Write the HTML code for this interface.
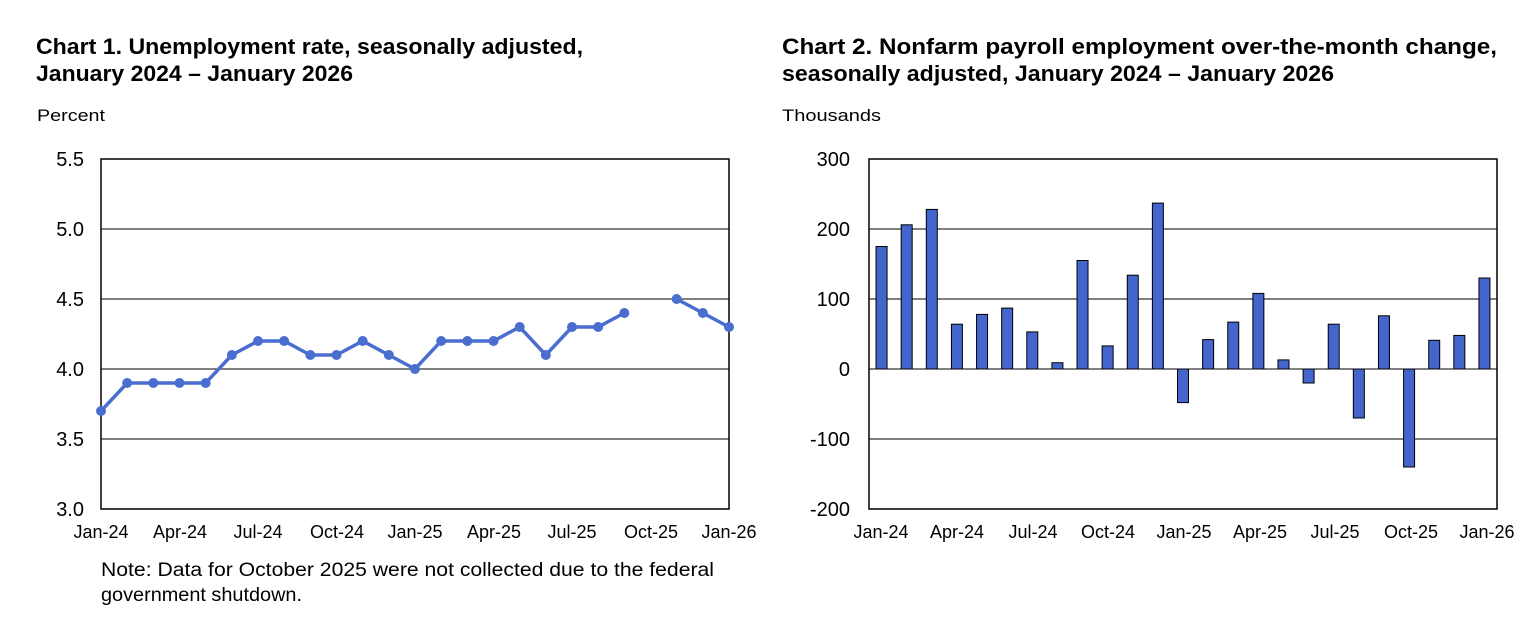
<!DOCTYPE html><html><head><style>body{margin:0;background:#fff}svg{display:block}</style></head><body>
<svg width="1536" height="636" xmlns="http://www.w3.org/2000/svg" font-family="Liberation Sans, Arial, sans-serif">
<g font-weight="bold" font-size="22" fill="#000">
<text x="36" y="54" textLength="547" lengthAdjust="spacingAndGlyphs">Chart 1. Unemployment rate, seasonally adjusted,</text>
<text x="36" y="81" textLength="317" lengthAdjust="spacingAndGlyphs">January 2024 – January 2026</text>
<text x="782" y="54" textLength="715" lengthAdjust="spacingAndGlyphs">Chart 2. Nonfarm payroll employment over-the-month change,</text>
<text x="782" y="81" textLength="552" lengthAdjust="spacingAndGlyphs">seasonally adjusted, January 2024 – January 2026</text>
</g>
<g font-size="17"><text x="37" y="121" textLength="68" lengthAdjust="spacingAndGlyphs">Percent</text><text x="782" y="121" textLength="99" lengthAdjust="spacingAndGlyphs">Thousands</text></g>
<g stroke="#000" stroke-width="1">
<line x1="101" x2="729" y1="229" y2="229"/><line x1="101" x2="729" y1="299" y2="299"/><line x1="101" x2="729" y1="369" y2="369"/><line x1="101" x2="729" y1="439" y2="439"/>
<rect x="101" y="159" width="628" height="350" fill="none" stroke-width="1.5"/>
<line x1="869" x2="1497" y1="229" y2="229"/><line x1="869" x2="1497" y1="299" y2="299"/><line x1="869" x2="1497" y1="439" y2="439"/>
<rect x="869" y="159" width="628" height="350" fill="none" stroke-width="1.5"/>
</g>
<g font-size="20" text-anchor="end">
<text x="84" y="166">5.5</text><text x="84" y="236">5.0</text><text x="84" y="306">4.5</text><text x="84" y="376">4.0</text><text x="84" y="446">3.5</text><text x="84" y="516">3.0</text>
<text x="850" y="166">300</text><text x="850" y="236">200</text><text x="850" y="306">100</text><text x="850" y="376">0</text><text x="850" y="446">-100</text><text x="850" y="516">-200</text>
</g>
<g font-size="18" text-anchor="middle">
<text x="101" y="538">Jan-24</text><text x="180" y="538">Apr-24</text><text x="258" y="538">Jul-24</text><text x="337" y="538">Oct-24</text><text x="415" y="538">Jan-25</text><text x="494" y="538">Apr-25</text><text x="572" y="538">Jul-25</text><text x="651" y="538">Oct-25</text><text x="729" y="538">Jan-26</text>
<text x="881" y="538">Jan-24</text><text x="957" y="538">Apr-24</text><text x="1033" y="538">Jul-24</text><text x="1108" y="538">Oct-24</text><text x="1184" y="538">Jan-25</text><text x="1260" y="538">Apr-25</text><text x="1335" y="538">Jul-25</text><text x="1411" y="538">Oct-25</text><text x="1487" y="538">Jan-26</text>
</g>
<g font-size="19"><text x="101" y="576" textLength="613" lengthAdjust="spacingAndGlyphs">Note: Data for October 2025 were not collected due to the federal</text><text x="101" y="601" textLength="201" lengthAdjust="spacingAndGlyphs">government shutdown.</text></g>
<g id="c1"></g><g id="c2"></g>
<script>
var ns="http://www.w3.org/2000/svg";
var u=[3.7,3.9,3.9,3.9,3.9,4.1,4.2,4.2,4.1,4.1,4.2,4.1,4.0,4.2,4.2,4.2,4.3,4.1,4.3,4.3,4.4,null,4.5,4.4,4.3];
var c1=document.getElementById('c1');
function X(i){return 101+i*628/24}function Y(v){return 509-(v-3)*140}
var segs=[[],[]];u.forEach(function(v,i){if(v!==null)segs[i<21?0:1].push(X(i).toFixed(1)+','+Y(v).toFixed(1))});
segs.forEach(function(s){var p=document.createElementNS(ns,'polyline');p.setAttribute('points',s.join(' '));p.setAttribute('fill','none');p.setAttribute('stroke','#4a6dd0');p.setAttribute('stroke-width','3.5');c1.appendChild(p)});
u.forEach(function(v,i){if(v===null)return;var c=document.createElementNS(ns,'circle');c.setAttribute('cx',X(i));c.setAttribute('cy',Y(v));c.setAttribute('r',5);c.setAttribute('fill','#4a6dd0');c1.appendChild(c)});
var b=[175,206,228,64,78,87,53,9,155,33,134,237,-48,42,67,108,13,-20,64,-70,76,-140,41,48,130];
var c2=document.getElementById('c2');
b.forEach(function(v,i){var cx=869+(i+0.5)*25.12;var y0=369,y1=369-v*0.7;var r=document.createElementNS(ns,'rect');r.setAttribute('x',cx-5.5);r.setAttribute('width',11);r.setAttribute('y',Math.min(y0,y1));r.setAttribute('height',Math.abs(y1-y0));r.setAttribute('fill','#4466cc');r.setAttribute('stroke','#000');r.setAttribute('stroke-width','1');c2.appendChild(r)});
var l=document.createElementNS(ns,'line');l.setAttribute('x1',869);l.setAttribute('x2',1497);l.setAttribute('y1',369);l.setAttribute('y2',369);l.setAttribute('stroke','#000');c2.appendChild(l);
</script>
</svg></body></html>
